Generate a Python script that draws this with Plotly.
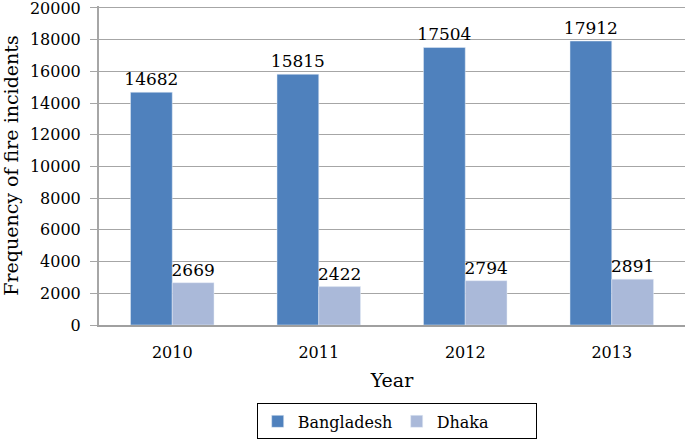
import plotly.graph_objects as go

years = ["2010", "2011", "2012", "2013"]
bangladesh = [14682, 15815, 17504, 17912]
dhaka = [2669, 2422, 2794, 2891]
y_ticks = [0, 2000, 4000, 6000, 8000, 10000, 12000, 14000, 16000, 18000, 20000]

FONT = "DejaVu Serif"
fig = go.Figure()
fig.add_trace(go.Bar(x=years, y=bangladesh, name="Bangladesh", marker_color="#4f81bd",
                     text=[str(v) for v in bangladesh], textposition="outside",
                     constraintext="none",
                     textfont=dict(color="black", size=17, family=FONT), cliponaxis=False))
fig.add_trace(go.Bar(x=years, y=dhaka, name="Dhaka", marker_color="#aab9d9",
                     text=[str(v) for v in dhaka], textposition="outside",
                     constraintext="none",
                     textfont=dict(color="black", size=17, family=FONT), cliponaxis=False))

fig.update_layout(
    width=685, height=439,
    margin=dict(l=99, r=0, t=6, b=114),
    barmode="group", bargap=0.43, bargroupgap=0,
    plot_bgcolor="white", paper_bgcolor="white",
    font=dict(family=FONT, size=16, color="black"),
    showlegend=True,
    legend=dict(orientation="h", x=0.508, xanchor="center", xref="paper",
                y=0.081, yanchor="top", yref="container", entrywidth=94,
                bordercolor="black", borderwidth=1, font=dict(size=16, family=FONT)),
    xaxis=dict(range=[-0.5, 3.5], showline=True, linecolor="#a0a0a0", linewidth=2,
               ticks="", automargin=False, ticklabelstandoff=12,
               title=dict(text="Year", font=dict(size=19), standoff=12),
               tickfont=dict(size=16)),
    yaxis=dict(range=[0, 20120], tickvals=y_ticks, ticktext=[str(t) for t in y_ticks],
               showgrid=True, gridcolor="#a6a6a6", automargin=False,
               gridwidth=1, showline=True, linecolor="#a6a6a6", linewidth=2,
               ticks="outside", ticklen=7, tickcolor="#a6a6a6", ticklabelstandoff=6,
               ticklabeloverflow="allow",
               title=dict(text="Frequency of fire incidents", font=dict(size=19), standoff=12),
               tickfont=dict(size=16), zeroline=False),
)
fig.write_html("out.html", config={"displayModeBar": False},
               post_script="document.body.style.margin='0';document.body.style.overflow='hidden';")
